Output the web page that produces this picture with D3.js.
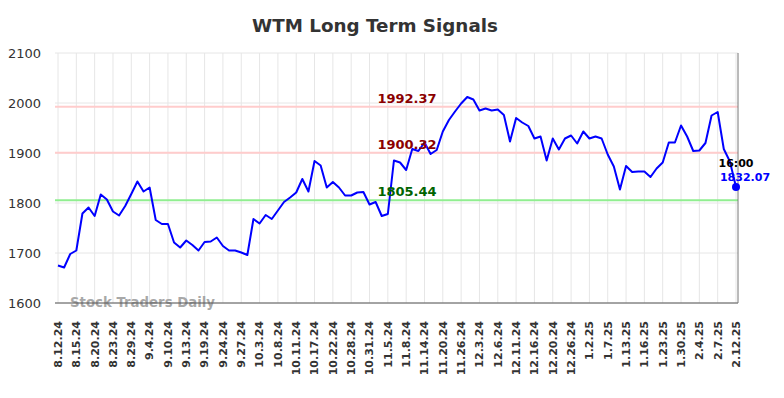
<!DOCTYPE html>
<html>
<head>
<meta charset="utf-8">
<script src="https://cdn.jsdelivr.net/npm/d3@7"></script>
<style>
  body { margin: 0; background: #fff; }
  text { font-family: "DejaVu Sans", sans-serif; }
</style>
</head>
<body>
<div id="chart"></div>
<script>
// Data
var dateLabels = ["8.12.24","8.15.24","8.20.24","8.23.24","8.29.24","9.4.24","9.10.24","9.13.24",
  "9.19.24","9.24.24","9.27.24","10.3.24","10.8.24","10.11.24","10.17.24","10.22.24","10.28.24",
  "10.31.24","11.5.24","11.8.24","11.14.24","11.20.24","11.26.24","12.3.24","12.6.24","12.11.24",
  "12.16.24","12.20.24","12.26.24","1.2.25","1.7.25","1.13.25","1.16.25","1.23.25","1.30.25",
  "2.4.25","2.7.25","2.12.25"];

var prices = [1675,1671,1698,1705,1779,1791,1774,1817,1807,1783,1775,1794,1818,1843,1823,1831,
  1766,1758,1758,1721,1711,1725,1716,1705,1722,1723,1731,1714,1705,1705,1701,1696,
  1768,1759,1776,1768,1785,1802,1811,1821,1848,1823,1884,1875,1831,1842,1831,1815,
  1815,1821,1822,1797,1802,1774,1778,1885,1881,1866,1908,1904,1921,1898,1906,1943,
  1966,1983,1999,2012,2007,1985,1989,1985,1987,1976,1923,1970,1961,1954,1929,1933,
  1885,1929,1907,1929,1935,1919,1943,1929,1933,1929,1897,1873,1827,1874,1862,1863,
  1863,1852,1869,1881,1921,1921,1955,1933,1904,1905,1920,1975,1982,1908,1883,1832.07];

var levels = [
  {value: 1992.37, line: "#ffcccc", text: "#8b0000"},
  {value: 1900.32, line: "#ffcccc", text: "#8b0000"},
  {value: 1805.44, line: "#90ee90", text: "#006400"}
];
var yTicks = [1600, 1700, 1800, 1900, 2000, 2100];
var lastTime = "16:00";

var width = 784, height = 398;
var m = {left: 55, right: 738, top: 53, bottom: 303};

var svg = d3.select("#chart").append("svg")
  .attr("width", width)
  .attr("height", height);

var x = d3.scalePoint()
  .domain(d3.range(prices.length))
  .range([58, 736]);

var y = d3.scaleLinear()
  .domain([1600, 2100])
  .range([m.bottom, m.top]);

// Grid
svg.append("g")
  .selectAll("line")
  .data(yTicks)
  .enter().append("line")
    .attr("x1", m.left).attr("x2", m.right)
    .attr("y1", function(d) { return y(d); })
    .attr("y2", function(d) { return y(d); })
    .attr("stroke", "#e6e6e6");

var tickIdx = dateLabels.map(function(d, i) { return i * 3; });

svg.append("g")
  .selectAll("line")
  .data(tickIdx)
  .enter().append("line")
    .attr("x1", function(d) { return x(d); })
    .attr("x2", function(d) { return x(d); })
    .attr("y1", m.top).attr("y2", m.bottom)
    .attr("stroke", "#e6e6e6");

// Y axis labels
svg.append("g")
  .selectAll("text")
  .data(yTicks)
  .enter().append("text")
    .attr("x", 41)
    .attr("y", function(d) { return y(d); })
    .attr("dy", "0.35em")
    .attr("text-anchor", "end")
    .style("font-size", "13px")
    .attr("fill", "#333")
    .text(function(d) { return d; });

// X axis labels
svg.append("g")
  .selectAll("text")
  .data(tickIdx)
  .enter().append("text")
    .attr("transform", function(d) { return "translate(" + x(d) + ",321) rotate(-90)"; })
    .attr("dy", "0.35em")
    .attr("text-anchor", "end")
    .style("font-size", "11px")
    .style("font-weight", "bold")
    .attr("fill", "#333")
    .text(function(d, i) { return dateLabels[i]; });

// Signal levels
svg.append("g")
  .selectAll("line")
  .data(levels)
  .enter().append("line")
    .attr("x1", m.left).attr("x2", m.right)
    .attr("y1", function(d) { return y(d.value); })
    .attr("y2", function(d) { return y(d.value); })
    .attr("stroke", function(d) { return d.line; })
    .attr("stroke-width", 2);

// Watermark
svg.append("text")
  .attr("x", 70)
  .attr("y", 306.5)
  .style("font-size", "13.3px")
  .style("font-weight", "bold")
  .attr("fill", "#999")
  .attr("fill-opacity", 0.85)
  .text("Stock Traders Daily");

// Price line
svg.append("path")
  .datum(prices)
  .attr("fill", "none")
  .attr("stroke", "#0000ff")
  .attr("stroke-width", 2)
  .attr("stroke-linejoin", "round")
  .attr("d", d3.line()
    .x(function(d, i) { return x(i); })
    .y(function(d) { return y(d); }));

// Level labels
svg.append("g")
  .selectAll("text")
  .data(levels)
  .enter().append("text")
    .attr("x", 407)
    .attr("y", function(d) { return y(d.value) - 4; })
    .attr("text-anchor", "middle")
    .style("font-size", "13px")
    .style("font-weight", "bold")
    .attr("fill", function(d) { return d.text; })
    .text(function(d) { return d.value.toFixed(2); });

// Frame
svg.append("line")
  .attr("x1", m.left).attr("x2", m.right)
  .attr("y1", m.bottom).attr("y2", m.bottom)
  .attr("stroke", "#555");
svg.append("line")
  .attr("x1", m.right).attr("x2", m.right)
  .attr("y1", m.top).attr("y2", m.bottom)
  .attr("stroke", "#777");

// Last point
var lastI = prices.length - 1;
svg.append("circle")
  .attr("cx", x(lastI))
  .attr("cy", y(prices[lastI]))
  .attr("r", 4)
  .attr("fill", "#0000ff");
svg.append("text")
  .attr("x", x(lastI))
  .attr("y", 167)
  .attr("text-anchor", "middle")
  .style("font-size", "11px")
  .style("font-weight", "bold")
  .attr("fill", "#000")
  .text(lastTime);
svg.append("text")
  .attr("x", x(lastI) + 9)
  .attr("y", 181)
  .attr("text-anchor", "middle")
  .style("font-size", "11px")
  .style("font-weight", "bold")
  .attr("fill", "#0000ff")
  .text(prices[lastI].toFixed(2));

// Title
svg.append("text")
  .attr("x", 375)
  .attr("y", 32)
  .attr("text-anchor", "middle")
  .style("font-size", "18.3px")
  .style("font-weight", "bold")
  .attr("fill", "#333")
  .text("WTM Long Term Signals");
</script>
</body>
</html>
